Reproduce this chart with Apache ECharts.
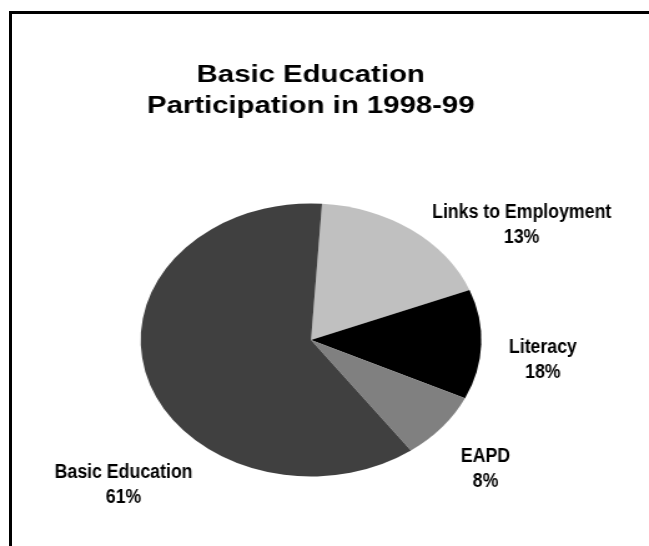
<!DOCTYPE html>
<html>
<head>
<meta charset="utf-8">
<title>Basic Education Participation in 1998-99</title>
<script src="https://cdn.jsdelivr.net/npm/echarts@6/dist/echarts.min.js"></script>
<style>
  html, body { margin: 0; padding: 0; background: #fff; overflow: hidden; }
  .frame {
    position: absolute; left: 9px; top: 11px; width: 700px; height: 600px;
    border-left: 3px solid #000; border-top: 3px solid #000;
  }
  /* the original chart is a round pie stretched sideways, text included */
  #main {
    position: absolute; left: 0; top: 0; width: 520px; height: 546px;
    transform: scaleX(1.248); transform-origin: 0 0;
  }
</style>
</head>
<body>
<div class="frame"></div>
<div id="main"></div>
<script>
// slices clockwise from the top
const names = ['Links to Employment', 'Literacy', 'EAPD', 'Basic Education']
const values = [18, 13, 8, 61]
// percentages as printed on the chart
const shownPct = ['13%', '18%', '8%', '61%']
const colors = ['#c0c0c0', '#000000', '#808080', '#404040']

// label centres (unstretched px)
const labelPos = [[418, 225], [435, 360], [389, 469], [99, 485]]

var chart = echarts.init(document.getElementById('main'));

// labels use a condensed bold face, no narrow font installed so squeeze it
var labels = names.map(function (n, i) {
  return {
    type: 'text',
    x: labelPos[i][0],
    y: labelPos[i][1],
    scaleX: 0.71,
    silent: true,
    style: {
      text: n + '\n' + shownPct[i],
      fontFamily: '"Liberation Sans", Arial, sans-serif',
      fontWeight: 'bold',
      fontSize: 20,
      lineHeight: 25,
      fill: '#000',
      align: 'center',
      verticalAlign: 'middle'
    }
  };
});

var option = {
  animation: false,
  title: {
    text: 'Basic Education\nParticipation in 1998-99',
    left: 249,
    top: 60,
    padding: 0,
    textAlign: 'center',
    textStyle: {
      fontFamily: '"Liberation Sans", Arial, sans-serif',
      fontWeight: 'bold',
      fontSize: 23.5,
      lineHeight: 31,
      color: '#000'
    }
  },
  graphic: labels,
  series: [
    {
      type: 'pie',
      center: [249.2, 340],
      radius: 136.5,
      startAngle: 86.3,
      clockwise: true,
      silent: true,
      itemStyle: { borderWidth: 0 },
      emphasis: { disabled: true },
      label: { show: false },
      labelLine: { show: false },
      data: names.map(function (n, i) {
        return { name: n, value: values[i], itemStyle: { color: colors[i] } };
      })
    }
  ]
};

chart.setOption(option);
</script>
</body>
</html>
